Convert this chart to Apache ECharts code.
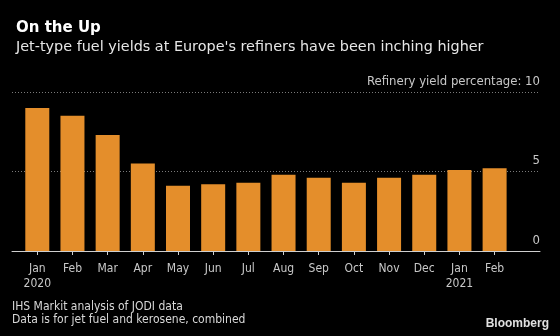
<!DOCTYPE html>
<html>
<head>
<meta charset="utf-8">
<script src="https://cdn.jsdelivr.net/npm/echarts@6/dist/echarts.min.js"></script>
<style>
  html, body { margin: 0; padding: 0; background: #000; }
  #chart { width: 560px; height: 336px; }
</style>
</head>
<body>
<div id="chart"></div>
<script>
// Monthly jet fuel / kerosene yield at European refiners (%)
const months = ['Jan', 'Feb', 'Mar', 'Apr', 'May', 'Jun', 'Jul', 'Aug', 'Sep', 'Oct', 'Nov', 'Dec', 'Jan', 'Feb'];
const years = ['2020', '', '', '', '', '', '', '', '', '', '', '', '2021', ''];
const yields = [9.0, 8.5, 7.3, 5.5, 4.1, 4.2, 4.3, 4.8, 4.6, 4.3, 4.6, 4.8, 5.1, 5.2];
const yTicks = [0, 5, 10];
const yAxisTitle = 'Refinery yield percentage: ';

const FONT = '"DejaVu Sans Condensed", "DejaVu Sans", sans-serif';
const WIDE_FONT = '"DejaVu Sans", sans-serif';
const categories = months.map((m, i) => years[i] ? m + '\n' + years[i] : m);

const chart = echarts.init(document.getElementById('chart'), null, { renderer: 'canvas' });

chart.setOption({
  backgroundColor: '#000',
  animation: false,
  title: [
    {
      text: 'On the Up',
      left: 11, top: 16,
      textStyle: { color: '#fff', fontFamily: WIDE_FONT, fontSize: 15, fontWeight: 'bold' }
    },
    {
      text: "Jet-type fuel yields at Europe's refiners have been inching higher",
      left: 11, top: 35,
      textStyle: { color: '#e6e6e6', fontFamily: WIDE_FONT, fontSize: 14.4, fontWeight: 'normal' }
    }
  ],
  grid: [
    // frame: gridlines, value labels, baseline
    { left: 12, right: 20, top: 92, bottom: 85 },
    // bars
    { left: 19.7, width: 492.5, top: 92, bottom: 85 }
  ],
  xAxis: [
    {
      gridIndex: 0, type: 'value', min: 0, max: 1,
      axisLine: { show: true, onZero: false, lineStyle: { color: '#cfcfcf', width: 1 } },
      axisTick: { show: false }, axisLabel: { show: false }, splitLine: { show: false }
    },
    {
      gridIndex: 1, type: 'category', data: categories,
      axisLine: { show: false },
      axisTick: { show: true, alignWithLabel: true, length: 4, lineStyle: { color: '#cfcfcf' } },
      axisLabel: {
        color: '#c8c8c8', fontFamily: FONT, fontSize: 12, margin: 10, lineHeight: 15,
        interval: 0
      }
    }
  ],
  yAxis: [
    {
      gridIndex: 0, type: 'value', position: 'right',
      min: yTicks[0], max: yTicks[yTicks.length - 1], interval: 5,
      axisLine: { show: false }, axisTick: { show: false },
      axisLabel: {
        inside: true, margin: 0, color: '#c8c8c8', fontFamily: FONT, fontSize: 13,
        verticalAlign: 'bottom', padding: [0, 0, 4, 0],
        formatter: v => (v === yTicks[yTicks.length - 1] ? yAxisTitle + v : String(v))
      },
      splitLine: {
        show: true,
        lineStyle: { color: '#7a7a7a', type: [1, 2], width: 1 }
      }
    },
    {
      gridIndex: 1, type: 'value',
      min: yTicks[0], max: yTicks[yTicks.length - 1],
      show: false
    }
  ],
  series: [
    {
      type: 'bar',
      xAxisIndex: 1, yAxisIndex: 1,
      data: yields,
      barWidth: 24,
      itemStyle: { color: '#e48e2b' }
    }
  ],
  graphic: [
    {
      type: 'text', left: 12, top: 300,
      style: {
        text: 'IHS Markit analysis of JODI data\nData is for jet fuel and kerosene, combined',
        fill: '#d8d8d8', font: '12px ' + FONT, lineHeight: 13
      }
    },
    {
      type: 'text', right: 11, top: 318,
      style: {
        text: 'Bloomberg',
        fill: '#e0e0e0', font: 'bold 12px "Liberation Sans", Arial, sans-serif'
      }
    }
  ]
});
</script>
</body>
</html>
